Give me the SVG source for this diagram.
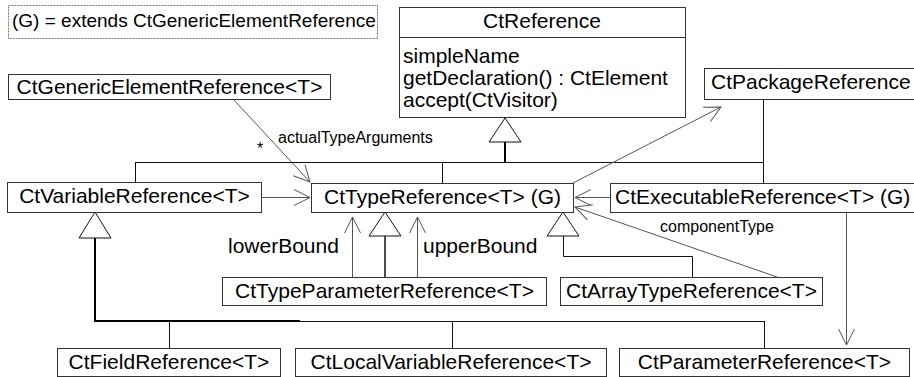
<svg xmlns="http://www.w3.org/2000/svg" width="914" height="377" viewBox="0 0 914 377">
<defs>
<style>
.box{fill:#fff;stroke:#333;stroke-width:1}
.t{font-family:"Liberation Sans",Arial,sans-serif;font-size:21px;fill:#000}
.c{text-anchor:middle}
.lbl{font-size:16px}
.leg{font-size:19px}
.conn{fill:none;stroke:#555;stroke-width:1}
.gen{fill:none;stroke:#111;stroke-width:1}
.thick{fill:none;stroke:#000;stroke-width:2}
.tri{fill:#fff;stroke:#111;stroke-width:1}
</style>
<marker id="arr" markerUnits="userSpaceOnUse" markerWidth="20" markerHeight="20" refX="16" refY="8" orient="auto" overflow="visible">
<path d="M0,0 L16,8 L0,16" fill="none" stroke="#555" stroke-width="1"/>
</marker>
</defs>
<rect width="914" height="377" fill="#fff"/>

<g id="legend">
<rect x="8.5" y="5.5" width="369" height="33" fill="#fff" stroke="#777" stroke-dasharray="2,1"/>
<text class="t leg" x="12" y="27">(G) = extends CtGenericElementReference</text>
</g>

<g id="connectors">
<!-- generalization to CtReference -->
<polygon class="tri" points="505,118 489,142 521,142"/>
<line class="thick" x1="505" y1="142" x2="505" y2="162"/>
<line class="gen" x1="135" y1="162.5" x2="763" y2="162.5"/>
<line class="gen" x1="135.5" y1="162" x2="135.5" y2="182"/>
<line class="gen" x1="442.5" y1="162" x2="442.5" y2="183"/>
<line class="gen" x1="763.5" y1="99" x2="763.5" y2="183"/>
<!-- generalization to CtTypeReference -->
<polygon class="tri" points="385,212 369,236 401,236"/>
<line class="gen" style="stroke-width:1.5" x1="385" y1="236" x2="385" y2="277"/>
<polygon class="tri" points="563,212 547,236 579,236"/>
<polyline class="gen" points="563.5,236 563.5,256.5 692.5,256.5 692.5,277"/>
<!-- generalization to CtVariableReference -->
<polygon class="tri" points="95,212 79,238 111,238"/>
<polyline class="thick" points="95,238 95,321 300,321"/>
<line class="gen" x1="300" y1="321.5" x2="764" y2="321.5"/>
<line class="gen" x1="169.5" y1="321" x2="169.5" y2="348"/>
<line class="gen" x1="452.5" y1="321" x2="452.5" y2="348"/>
<line class="gen" x1="764.5" y1="321" x2="764.5" y2="348"/>
<!-- associations -->
<line class="conn" x1="233" y1="99" x2="310" y2="182" marker-end="url(#arr)"/>
<line class="conn" x1="261" y1="197.5" x2="310" y2="197.5" marker-end="url(#arr)"/>
<line class="conn" x1="610" y1="197.5" x2="575" y2="197.5" marker-end="url(#arr)"/>
<line class="conn" x1="777" y1="277" x2="575" y2="207" marker-end="url(#arr)"/>
<line class="conn" x1="573" y1="183" x2="721" y2="107" marker-end="url(#arr)"/>
<line class="conn" x1="352.5" y1="277" x2="352.5" y2="217" marker-end="url(#arr)"/>
<line class="conn" x1="417.5" y1="277" x2="417.5" y2="217" marker-end="url(#arr)"/>
<line class="conn" x1="846.5" y1="212" x2="846.5" y2="345" marker-end="url(#arr)"/>
<text class="t lbl" x="278" y="143">actualTypeArguments</text>
<text class="t lbl c" x="260" y="154">*</text>
<text class="t lbl" x="660" y="232">componentType</text>
<text class="t" x="228" y="253">lowerBound</text>
<text class="t" x="423" y="253">upperBound</text>
</g>

<g id="CtReference">
<rect class="box" x="399.5" y="7.5" width="286" height="110"/>
<line class="box" x1="399.5" y1="37.5" x2="685.5" y2="37.5"/>
<text class="t c" x="542" y="28">CtReference</text>
<text class="t" x="403" y="63">simpleName</text>
<text class="t" x="403" y="85">getDeclaration() : CtElement</text>
<text class="t" x="403" y="107">accept(CtVisitor)</text>
</g>

<g id="CtGenericElementReference">
<rect class="box" x="8.5" y="74.5" width="322" height="25"/>
<text class="t c" x="169.5" y="94">CtGenericElementReference&lt;T&gt;</text>
</g>

<g id="CtPackageReference">
<rect class="box" x="704.5" y="68.5" width="220" height="31"/>
<text class="t" x="711" y="89">CtPackageReference</text>
</g>

<g id="CtVariableReference">
<rect class="box" x="7.5" y="182.5" width="254" height="30"/>
<text class="t c" x="134.5" y="203">CtVariableReference&lt;T&gt;</text>
</g>

<g id="CtTypeReference">
<rect class="box" x="311.5" y="183.5" width="262" height="29"/>
<text class="t c" x="442.5" y="204">CtTypeReference&lt;T&gt; (G)</text>
</g>

<g id="CtExecutableReference">
<rect class="box" x="610.5" y="183.5" width="310" height="29"/>
<text class="t" x="615" y="204">CtExecutableReference&lt;T&gt; (G)</text>
</g>

<g id="CtTypeParameterReference">
<rect class="box" x="222.5" y="277.5" width="324" height="28"/>
<text class="t c" x="384.5" y="298">CtTypeParameterReference&lt;T&gt;</text>
</g>

<g id="CtArrayTypeReference">
<rect class="box" x="560.5" y="277.5" width="262" height="28"/>
<text class="t c" x="691.5" y="298">CtArrayTypeReference&lt;T&gt;</text>
</g>

<g id="CtFieldReference">
<rect class="box" x="57.5" y="348.5" width="223" height="28"/>
<text class="t c" x="169" y="369">CtFieldReference&lt;T&gt;</text>
</g>

<g id="CtLocalVariableReference">
<rect class="box" x="295.5" y="348.5" width="311" height="28"/>
<text class="t c" x="451" y="369">CtLocalVariableReference&lt;T&gt;</text>
</g>

<g id="CtParameterReference">
<rect class="box" x="619.5" y="348.5" width="290" height="28"/>
<text class="t c" x="764.5" y="369">CtParameterReference&lt;T&gt;</text>
</g>
</svg>
